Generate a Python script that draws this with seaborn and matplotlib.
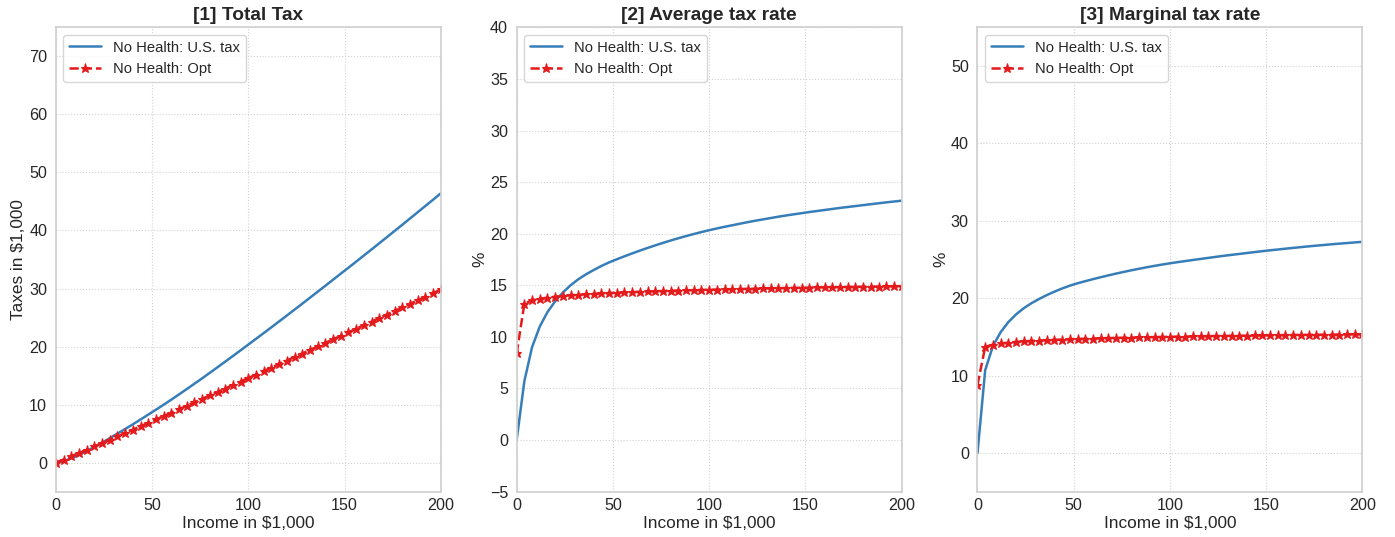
import matplotlib
matplotlib.use("Agg")
import matplotlib.pyplot as plt
import seaborn as sns

income = [0, 4, 8, 12, 16, 20, 24, 28, 32, 36, 40, 44, 48, 52, 56, 60, 64, 68, 72, 76,
          80, 84, 88, 92, 96, 100, 104, 108, 112, 116, 120, 124, 128, 132, 136, 140,
          144, 148, 152, 156, 160, 164, 168, 172, 176, 180, 184, 188, 192, 196, 200]

total_us = [0.0, 0.23, 0.72, 1.32, 1.98, 2.69, 3.43, 4.20, 4.99, 5.78, 6.59, 7.42, 8.27,
            9.11, 9.97, 10.85, 11.75, 12.66, 13.59, 14.52, 15.47, 16.43, 17.40, 18.37,
            19.35, 20.34, 21.33, 22.32, 23.32, 24.33, 25.34, 26.36, 27.38, 28.41, 29.44,
            30.47, 31.51, 32.55, 33.58, 34.63, 35.68, 36.73, 37.79, 38.85, 39.92, 40.99,
            42.07, 43.15, 44.23, 45.31, 46.40]
total_opt = [0.0, 0.53, 1.08, 1.64, 2.21, 2.78, 3.35, 3.93, 4.51, 5.09, 5.67, 6.25, 6.84,
             7.43, 8.01, 8.60, 9.20, 9.79, 10.38, 10.97, 11.58, 12.17, 12.77, 13.37,
             13.97, 14.57, 15.17, 15.78, 16.37, 16.98, 17.59, 18.19, 18.80, 19.40, 20.02,
             20.62, 21.24, 21.84, 22.45, 23.07, 23.68, 24.29, 24.90, 25.52, 26.14, 26.75,
             27.36, 27.97, 28.59, 29.20, 29.84]

avg_us = [0.0, 5.7, 9.0, 11.0, 12.4, 13.45, 14.3, 15.0, 15.58, 16.06, 16.48, 16.87, 17.22,
          17.52, 17.81, 18.09, 18.36, 18.62, 18.87, 19.11, 19.34, 19.56, 19.77, 19.97,
          20.16, 20.34, 20.51, 20.67, 20.82, 20.97, 21.12, 21.26, 21.39, 21.52, 21.65,
          21.77, 21.88, 21.99, 22.10, 22.20, 22.30, 22.40, 22.50, 22.59, 22.68, 22.77,
          22.86, 22.95, 23.04, 23.12, 23.20]
avg_opt = [8.4, 13.2, 13.55, 13.7, 13.8, 13.9, 13.97, 14.03, 14.08, 14.13, 14.17, 14.21,
           14.25, 14.28, 14.31, 14.34, 14.37, 14.40, 14.42, 14.44, 14.47, 14.49, 14.51,
           14.53, 14.55, 14.57, 14.59, 14.61, 14.62, 14.64, 14.66, 14.67, 14.69, 14.70,
           14.72, 14.73, 14.75, 14.76, 14.77, 14.79, 14.80, 14.81, 14.82, 14.84, 14.85,
           14.86, 14.87, 14.88, 14.89, 14.90, 14.92]

marg_us = [0.0, 10.7, 13.8, 15.6, 16.9, 17.9, 18.7, 19.35, 19.9, 20.4, 20.85, 21.26,
           21.62, 21.93, 22.20, 22.46, 22.71, 22.95, 23.18, 23.40, 23.61, 23.81, 24.00,
           24.18, 24.35, 24.51, 24.66, 24.80, 24.94, 25.08, 25.21, 25.35, 25.48, 25.60,
           25.72, 25.84, 25.96, 26.08, 26.19, 26.29, 26.40, 26.50, 26.60, 26.70, 26.79,
           26.88, 26.97, 27.05, 27.13, 27.21, 27.28]
marg_opt = [8.8, 13.7, 14.0, 14.15, 14.25, 14.35, 14.42, 14.48, 14.53, 14.58, 14.62,
            14.66, 14.70, 14.73, 14.76, 14.79, 14.82, 14.84, 14.87, 14.89, 14.91, 14.93,
            14.95, 14.97, 14.99, 15.01, 15.03, 15.04, 15.06, 15.08, 15.09, 15.11, 15.12,
            15.14, 15.15, 15.16, 15.18, 15.19, 15.20, 15.21, 15.23, 15.24, 15.25, 15.26,
            15.27, 15.28, 15.29, 15.30, 15.31, 15.32, 15.33]

titles = ["[1] Total Tax", "[2] Average tax rate", "[3] Marginal tax rate"]
ylabels = ["Taxes in $1,000", "%", "%"]
xlabel = "Income in $1,000"
label_us = "No Health: U.S. tax"
label_opt = "No Health: Opt"

sns.set_theme(style="whitegrid", rc={"grid.linestyle": ":", "grid.color": "#d2d2d2",
                                     "grid.linewidth": 0.8,
                                     "axes.edgecolor": "#d0d0d0"})
plt.rcParams["font.family"] = ["Liberation Sans", "DejaVu Sans"]

blue = "#377eb8"
red = "#e41a1c"

fig, axes = plt.subplots(1, 3, figsize=(13.95, 5.37), dpi=100)
fig.subplots_adjust(left=0.040, right=0.9767, top=0.949, bottom=0.0845, wspace=0.197)

series = [(total_us, total_opt), (avg_us, avg_opt), (marg_us, marg_opt)]
ylims = [(-5, 75), (-5, 40), (-5, 55)]
yticks = [list(range(0, 71, 10)), list(range(-5, 41, 5)), list(range(0, 51, 10))]

for ax, (us, opt), title, yl, lim, yt in zip(axes, series, titles, ylabels, ylims, yticks):
    sns.lineplot(x=income, y=us, ax=ax, color=blue, linewidth=1.8, label=label_us)
    sns.lineplot(x=income, y=opt, ax=ax, color=red, linewidth=1.8, linestyle="--",
                 marker="*", markersize=6.5, markeredgewidth=0.8, markeredgecolor=red,
                 markerfacecolor=red, label=label_opt)
    ax.set_title(title, fontsize=13.8, fontweight="bold", pad=5)
    ax.set_xlabel(xlabel, fontsize=12.4, labelpad=2)
    ax.set_ylabel(yl, fontsize=12.4, labelpad=2)
    ax.set_xlim(0, 200)
    ax.set_ylim(*lim)
    ax.set_xticks([0, 50, 100, 150, 200])
    ax.set_yticks(yt)
    ax.tick_params(axis="x", labelsize=11.6, length=0, pad=4.5)
    ax.tick_params(axis="y", labelsize=11.6, length=0, pad=6.2)
    leg = ax.legend(loc="upper left", fontsize=10.6, frameon=True, handlelength=2.2,
                    handletextpad=0.8)
    leg.get_frame().set_edgecolor("#cccccc")

fig.savefig("out.png", dpi=100)
